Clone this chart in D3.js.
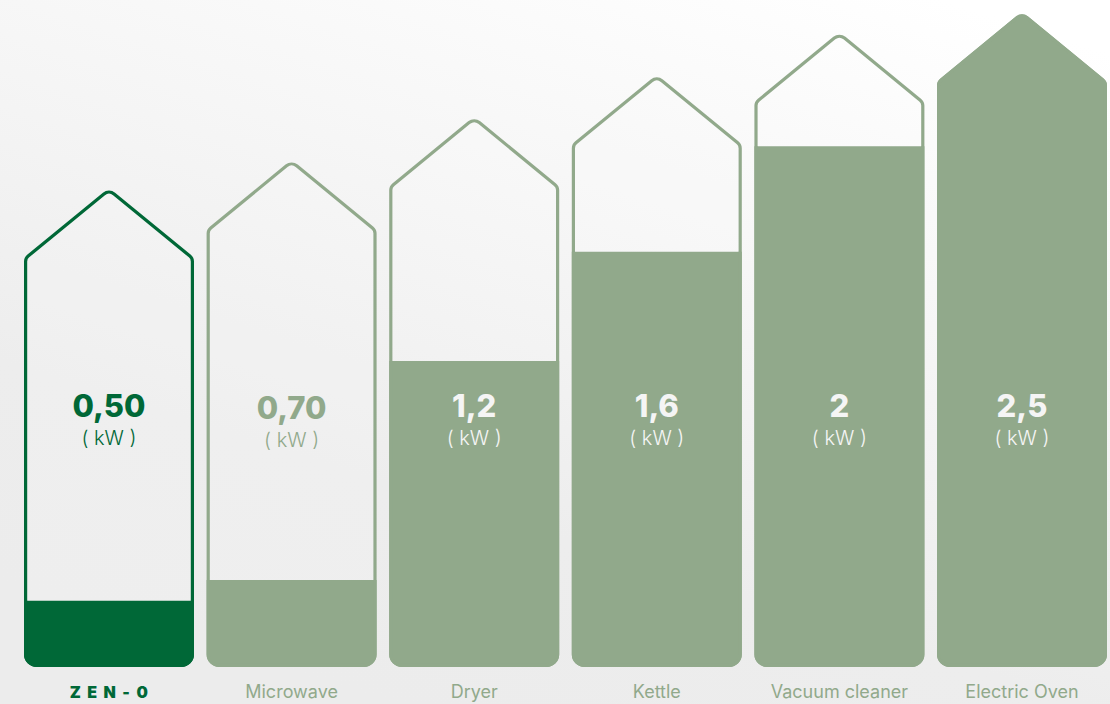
<!DOCTYPE html>
<html><head><meta charset="utf-8">
<script src="https://cdn.jsdelivr.net/npm/d3@7"></script>
<style>
html,body{margin:0;padding:0;background:#eeeeee;}
svg{display:block;}
</style></head>
<body>
<svg id="chart" width="1110" height="704"></svg>
<script>
// ---- data ----
const categories = ["ZEN-0", "Microwave", "Dryer", "Kettle", "Vacuum cleaner", "Electric Oven"];
const valueLabels = ["0,50", "0,70", "1,2", "1,6", "2", "2,5"];   // kW
const houseHeight = [73.1, 77.4, 84.0, 90.4, 96.9, 100];          // % of tallest house (apex)
const fillLevel   = [10.1, 13.3, 46.7, 63.4, 79.5, 100];          // % fill level, same scale
const unitLabel = "( kW )";

const W = 1110, H = 704;
const dark = "#006837", sage = "#91a98b";
const svg = d3.select("#chart");

const defs = svg.append("defs");
const grad = defs.append("linearGradient").attr("id", "bg")
  .attr("x1", "0.85").attr("y1", "0").attr("x2", "0.35").attr("y2", "1");
grad.append("stop").attr("offset", "0").attr("stop-color", "#ffffff");
grad.append("stop").attr("offset", "0.75").attr("stop-color", "#ededed");
grad.append("stop").attr("offset", "1").attr("stop-color", "#ececec");
svg.append("rect").attr("width", W).attr("height", H).attr("fill", "url(#bg)");

const x = d3.scaleBand().domain(categories).range([24, 1107]).paddingInner(0.069).paddingOuter(0);
const y = d3.scaleLinear().domain([0, 100]).range([667, 12]);
const roof = 70, sw = 3.2;

function housePath(i) {
  const h = sw / 2;
  const x0 = x(categories[i]) + h, x1 = x(categories[i]) + x.bandwidth() - h;
  const cx = (x0 + x1) / 2;
  const apex = y(houseHeight[i]) + h;
  const shoulder = y(houseHeight[i]) + roof;
  const bottom = y(0) - h;
  const p = d3.path();
  p.moveTo(x0, (shoulder + bottom) / 2);
  p.arcTo(x0, shoulder, cx, apex, 7);
  p.arcTo(cx, apex, x1, shoulder, 8);
  p.arcTo(x1, shoulder, x1, bottom, 7);
  p.arcTo(x1, bottom, x0, bottom, 11);
  p.arcTo(x0, bottom, x0, shoulder, 11);
  p.closePath();
  return p.toString();
}

categories.forEach((c, i) => {
  const col = i === 0 ? dark : sage;
  const g = svg.append("g");
  defs.append("clipPath").attr("id", "clip" + i)
    .append("rect")
    .attr("x", x(c) - 2).attr("width", x.bandwidth() + 4)
    .attr("y", y(fillLevel[i])).attr("height", y(0) - y(fillLevel[i]) + 2);
  g.append("path").attr("d", housePath(i))
    .attr("fill", "#ffffff").attr("fill-opacity", 0.12)
    .attr("stroke", col).attr("stroke-width", sw);
  g.append("path").attr("d", housePath(i))
    .attr("fill", col).attr("stroke", col).attr("stroke-width", sw)
    .attr("clip-path", "url(#clip" + i + ")");

  const cx = x(c) + x.bandwidth() / 2;
  const txtCol = i === 0 ? dark : (i === 1 ? sage : "#f5f5f5");
  g.append("text").attr("x", cx).attr("y", i === 1 ? 419 : 417)
    .attr("text-anchor", "middle")
    .attr("font-family", "Inter, 'Open Sans', sans-serif")
    .attr("font-weight", 800).attr("font-size", 31)
    .attr("fill", txtCol).text(valueLabels[i]);
  g.append("text").attr("x", cx).attr("y", i === 1 ? 447 : 445)
    .attr("text-anchor", "middle")
    .attr("font-family", "Inter, 'Open Sans', sans-serif")
    .attr("font-weight", 300).attr("font-size", 20)
    .attr("fill", txtCol).text(unitLabel);

  const lab = g.append("text").attr("x", cx + (i === 0 ? 3 : 0)).attr("y", 698)
    .attr("text-anchor", "middle")
    .attr("font-family", "Inter, 'Open Sans', sans-serif")
    .attr("fill", col);
  if (i === 0) {
    lab.attr("font-weight", 900).attr("font-size", 16).attr("letter-spacing", 6.5).text(c);
  } else {
    lab.attr("font-weight", 400).attr("font-size", 18).text(c);
  }
});
</script>
</body></html>
